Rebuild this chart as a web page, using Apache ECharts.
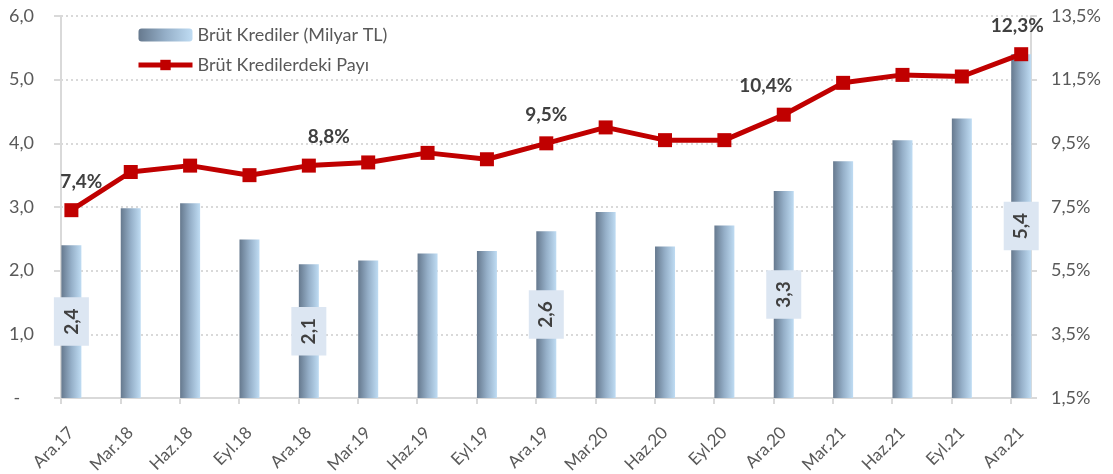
<!DOCTYPE html>
<html>
<head>
<meta charset="utf-8">
<script src="https://cdn.jsdelivr.net/npm/echarts@6/dist/echarts.min.js"></script>
<style>
  html, body { margin: 0; padding: 0; background: #fff; }
  #tu { width: 1113px; height: 474px; }
</style>
</head>
<body>
<div id="tu"></div>
<script>
var categories = ["Ara.17", "Mar.18", "Haz.18", "Eyl.18", "Ara.18", "Mar.19", "Haz.19", "Eyl.19", "Ara.19",
  "Mar.20", "Haz.20", "Eyl.20", "Ara.20", "Mar.21", "Haz.21", "Eyl.21", "Ara.21"];
// Brüt Krediler (Milyar TL)
var krediler = [2.40, 2.98, 3.06, 2.49, 2.10, 2.16, 2.27, 2.31, 2.62, 2.92, 2.38, 2.71, 3.25, 3.72, 4.05, 4.39, 5.40];
// Brüt Kredilerdeki Payı (%)
var payi = [7.4, 8.6, 8.8, 8.5, 8.8, 8.9, 9.2, 9.0, 9.5, 10.0, 9.6, 9.6, 10.4, 11.4, 11.65, 11.6, 12.3];
var leftTicks = [0, 1, 2, 3, 4, 5, 6];
var rightTicks = [1.5, 3.5, 5.5, 7.5, 9.5, 11.5, 13.5];
var labelled = [0, 4, 8, 12, 16];

var shift = 0.175;          // bars sit just right of their tick
var labelShift = 0.17;      // category labels hang a bit right of the tick
var lineLabelOffset = { 0: [10, -4], 4: [20, -4], 8: [0, -4], 12: [-18, -4], 16: [-4, -4] };

function comma(v, d) {
  return v.toFixed(d).replace(".", ",");
}

var tickIdx = categories.map(function (c, i) { return i; });
var labelPos = categories.map(function (c, i) { return i + labelShift; });

var barData = krediler.map(function (v, i) {
  return { value: [i + shift, v], label: { show: labelled.indexOf(i) >= 0 } };
});
var lineData = payi.map(function (v, i) {
  return {
    value: [i + shift, v],
    label: { show: labelled.indexOf(i) >= 0, offset: lineLabelOffset[i] || [0, 0] }
  };
});

var myChart = echarts.init(document.getElementById("tu"));
var font = "Lato, 'Noto Sans', sans-serif";
var option = {
  animation: false,
  textStyle: { fontFamily: font },
  grid: { left: 61, right: 82, top: 16, bottom: 76, containLabel: false, outerBoundsMode: "none" },
  legend: {
    orient: "vertical",
    left: 131,
    top: 21,
    itemWidth: 54,
    itemHeight: 13,
    itemGap: 12,
    textStyle: { fontSize: 18, color: "#595959", fontFamily: font },
    data: [
      { name: "Brüt Krediler (Milyar TL)" },
      { name: "Brüt Kredilerdeki Payı", lineStyle: { width: 5 } }
    ]
  },
  xAxis: {
    type: "value",
    min: 0,
    max: 16.34,
    axisLine: { show: true, lineStyle: { color: "#d9d9d9", width: 2 } },
    axisTick: { show: true, customValues: tickIdx, length: 6, lineStyle: { color: "#d9d9d9", width: 2 } },
    splitLine: { show: false },
    axisLabel: {
      customValues: labelPos,
      rotate: 45,
      margin: 32,
      fontSize: 17,
      color: "#595959",
      formatter: function (v) { return categories[Math.round(v - labelShift)]; }
    }
  },
  yAxis: [
    {
      type: "value",
      min: 0,
      max: 6,
      interval: 1,
      axisLine: { show: true, lineStyle: { color: "#d9d9d9", width: 2 } },
      axisTick: { show: true, length: 7, lineStyle: { color: "#d9d9d9", width: 2 } },
      splitLine: { show: true, lineStyle: { color: "#d9d9d9", type: [2, 3], width: 2 } },
      axisLabel: {
        margin: 27,
        fontSize: 18,
        color: "#595959",
        formatter: function (v) { return v === 0 ? "-   " : comma(v, 1); }
      }
    },
    {
      type: "value",
      min: 1.5,
      max: 13.5,
      position: "right",
      axisLine: { show: true, lineStyle: { color: "#d9d9d9", width: 2 } },
      axisTick: { show: true, customValues: rightTicks, length: 6, lineStyle: { color: "#d9d9d9", width: 2 } },
      splitLine: { show: false },
      axisLabel: {
        customValues: rightTicks,
        margin: 20,
        fontSize: 18,
        color: "#595959",
        formatter: function (v) { return comma(v, 1) + "%"; }
      }
    }
  ],
  series: [
    {
      name: "Brüt Krediler (Milyar TL)",
      type: "bar",
      barWidth: 20,
      itemStyle: {
        color: new echarts.graphic.LinearGradient(0, 0, 1, 0, [
          { offset: 0, color: "#66798e" },
          { offset: 0.5, color: "#95afc8" },
          { offset: 1, color: "#bfdcf3" }
        ])
      },
      label: {
        position: "inside",
        rotate: 90,
        backgroundColor: "#dce6f2",
        padding: [8, 11],
        fontSize: 19,
        fontWeight: "bold",
        color: "#404040",
        fontFamily: font,
        formatter: function (p) { return comma(p.value[1], 1); }
      },
      data: barData
    },
    {
      name: "Brüt Kredilerdeki Payı",
      type: "line",
      yAxisIndex: 1,
      symbol: "rect",
      symbolSize: 14,
      lineStyle: { color: "#c00000", width: 5 },
      itemStyle: { color: "#c00000" },
      label: {
        position: "top",
        distance: 8,
        fontSize: 19,
        fontWeight: "bold",
        color: "#404040",
        fontFamily: font,
        formatter: function (p) { return comma(p.value[1], 1) + "%"; }
      },
      z: 5,
      data: lineData
    }
  ]
};
myChart.setOption(option);
</script>
</body>
</html>
